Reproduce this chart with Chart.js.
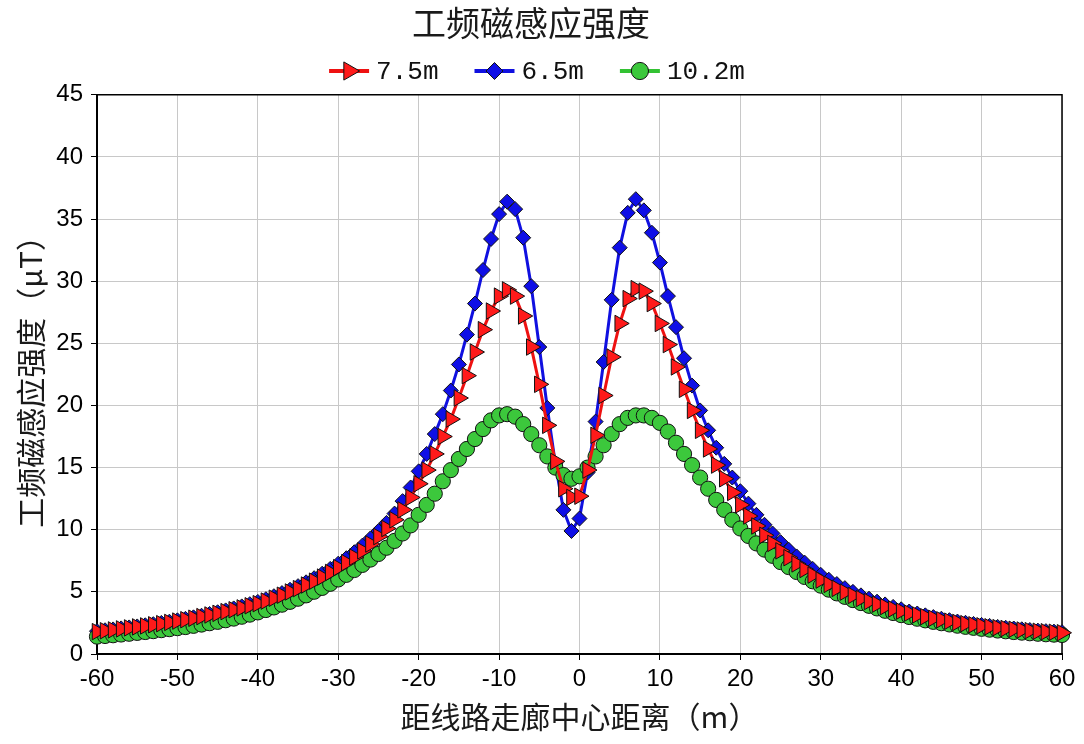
<!DOCTYPE html>
<html>
<head>
<meta charset="utf-8">
<script src="https://cdn.jsdelivr.net/npm/chart.js@4.4.0/dist/chart.umd.min.js"></script>
<style>
  html, body { margin: 0; padding: 0; background: #fff; }
</style>
</head>
<body>
<canvas id="chart" width="1084" height="744"></canvas>
<script>
// 工频磁感应强度 vs distance from the corridor centre

const chartTitle = '工频磁感应强度';
const xAxisTitle = '距线路走廊中心距离（m）';
const yAxisTitle = '工频磁感应强度（μT）';
const seriesNames = ['7.5m', '6.5m', '10.2m'];
const xRange = [-60, 60, 10];
const yRange = [0, 45, 5];

const distance = [
  -60, -59, -58, -57, -56, -55, -54, -53, -52, -51,
  -50, -49, -48, -47, -46, -45, -44, -43, -42, -41,
  -40, -39, -38, -37, -36, -35, -34, -33, -32, -31,
  -30, -29, -28, -27, -26, -25, -24, -23, -22, -21,
  -20, -19, -18, -17, -16, -15, -14, -13, -12, -11,
  -10, -9, -8, -7, -6, -5, -4, -3, -2, -1,
  0, 1, 2, 3, 4, 5, 6, 7, 8, 9,
  10, 11, 12, 13, 14, 15, 16, 17, 18, 19,
  20, 21, 22, 23, 24, 25, 26, 27, 28, 29,
  30, 31, 32, 33, 34, 35, 36, 37, 38, 39,
  40, 41, 42, 43, 44, 45, 46, 47, 48, 49,
  50, 51, 52, 53, 54, 55, 56, 57, 58, 59, 60
];

const field75 = [
  1.80, 1.87, 1.94, 2.02, 2.10, 2.18, 2.26, 2.35, 2.44, 2.54,
  2.65, 2.76, 2.88, 3.01, 3.14, 3.27, 3.41, 3.56, 3.71, 3.88,
  4.05, 4.26, 4.49, 4.73, 4.99, 5.26, 5.55, 5.86, 6.19, 6.56,
  6.95, 7.35, 7.80, 8.30, 8.85, 9.45, 10.10, 10.80, 11.60, 12.60,
  13.7, 14.8, 16.1, 17.5, 18.9, 20.6, 22.4, 24.3, 26.1, 27.6,
  28.8, 29.3, 28.8, 27.2, 24.7, 21.7, 18.4, 15.5, 13.3, 12.6,
  12.7, 14.8, 17.6, 20.8, 23.9, 26.6, 28.6, 29.4, 29.2, 28.2,
  26.6, 24.9, 23.1, 21.3, 19.6, 18.0, 16.5, 15.2, 14.1, 13.0,
  12.0, 11.1, 10.3, 9.55, 8.90, 8.30, 7.75, 7.25, 6.80, 6.35,
  5.95, 5.60, 5.28, 4.98, 4.71, 4.46, 4.22, 4.01, 3.81, 3.62,
  3.45, 3.29, 3.14, 3.00, 2.87, 2.75, 2.64, 2.54, 2.44, 2.35,
  2.27, 2.19, 2.12, 2.05, 1.99, 1.93, 1.88, 1.83, 1.79, 1.75, 1.71
];

const field65 = [
  1.84, 1.91, 1.98, 2.06, 2.14, 2.22, 2.31, 2.40, 2.50, 2.60,
  2.71, 2.83, 2.95, 3.08, 3.22, 3.36, 3.51, 3.67, 3.83, 4.01,
  4.19, 4.41, 4.65, 4.90, 5.17, 5.46, 5.77, 6.10, 6.46, 6.85,
  7.27, 7.71, 8.19, 8.72, 9.30, 9.90, 10.55, 11.30, 12.30, 13.40,
  14.7, 16.1, 17.7, 19.3, 21.2, 23.3, 25.7, 28.2, 30.9, 33.4,
  35.4, 36.4, 35.8, 33.5, 29.6, 24.7, 19.8, 15.3, 11.6, 9.9,
  10.9, 14.6, 18.7, 23.5, 28.5, 32.7, 35.5, 36.6, 35.7, 33.9,
  31.5, 28.8, 26.3, 23.8, 21.6, 19.6, 18.0, 16.6, 15.3, 14.2,
  13.1, 12.1, 11.2, 10.4, 9.70, 9.00, 8.40, 7.85, 7.35, 6.85,
  6.37, 5.98, 5.63, 5.30, 5.00, 4.72, 4.45, 4.21, 3.99, 3.79,
  3.60, 3.42, 3.26, 3.11, 2.97, 2.84, 2.72, 2.61, 2.51, 2.42,
  2.34, 2.26, 2.18, 2.11, 2.05, 1.99, 1.93, 1.88, 1.84, 1.80, 1.76
];

const field102 = [
  1.40, 1.45, 1.51, 1.57, 1.63, 1.70, 1.77, 1.84, 1.92, 2.00,
  2.08, 2.17, 2.27, 2.37, 2.48, 2.59, 2.72, 2.85, 3.00, 3.17,
  3.35, 3.54, 3.75, 3.97, 4.20, 4.45, 4.72, 5.01, 5.32, 5.65,
  6.00, 6.37, 6.76, 7.17, 7.60, 8.05, 8.55, 9.10, 9.70, 10.35,
  11.2, 12.0, 12.9, 13.9, 14.8, 15.7, 16.5, 17.3, 18.1, 18.8,
  19.2, 19.3, 19.1, 18.5, 17.7, 16.8, 15.9, 15.0, 14.4, 14.1,
  14.3, 15.0, 15.9, 16.8, 17.7, 18.5, 19.0, 19.2, 19.2, 19.0,
  18.6, 17.9, 17.0, 16.1, 15.2, 14.2, 13.3, 12.4, 11.6, 10.8,
  10.1, 9.5, 8.9, 8.4, 7.9, 7.4, 7.0, 6.6, 6.2, 5.85,
  5.50, 5.18, 4.88, 4.60, 4.34, 4.10, 3.88, 3.67, 3.48, 3.30,
  3.13, 2.98, 2.84, 2.71, 2.59, 2.48, 2.38, 2.28, 2.19, 2.11,
  2.03, 1.96, 1.89, 1.83, 1.77, 1.72, 1.67, 1.63, 1.59, 1.56, 1.53
];

const seriesValues = [field75, field65, field102];

const looks = [
  { line: '#ee1111', fill: '#ff1a1a', shape: 'triangle', rot: 90, r: 9.5, order: 0 },
  { line: '#1010e0', fill: '#0f0fe6', shape: 'rectRot', rot: 0, r: 7.5, order: 2 },
  { line: '#33c233', fill: '#3cc83c', shape: 'circle', rot: 0, r: 7.6, order: 1 }
];

const datasets = seriesNames.map((name, i) => ({
  label: name,
  data: distance.map((x, k) => ({ x: x, y: seriesValues[i][k] })),
  borderColor: looks[i].line,
  borderWidth: 3,
  pointStyle: looks[i].shape,
  pointRotation: looks[i].rot,
  pointRadius: looks[i].r,
  pointBackgroundColor: looks[i].fill,
  pointBorderColor: '#111',
  pointBorderWidth: 1,
  tension: 0,
  clip: false,
  order: looks[i].order
}));

// top & right edge of the plot box
const frameBox = {
  id: 'frameBox',
  beforeDatasetsDraw(chart) {
    const a = chart.chartArea, ctx = chart.ctx;
    ctx.save();
    ctx.strokeStyle = '#000';
    ctx.lineWidth = 1.5;
    ctx.beginPath();
    ctx.moveTo(a.left, a.top);
    ctx.lineTo(a.right, a.top);
    ctx.lineTo(a.right, a.bottom);
    ctx.stroke();
    ctx.restore();
  }
};

// legend as line + marker + label, like the original
const lineLegend = {
  id: 'lineLegend',
  afterDraw(chart) {
    const ctx = chart.ctx;
    const y = 71;
    const segW = 40, txtGap = 7, itemGap = 36;
    ctx.save();
    ctx.font = '26px "Liberation Mono", monospace';
    const dsList = chart.data.datasets;
    const widths = dsList.map(ds => segW + txtGap + ctx.measureText(ds.label).width);
    const total = widths.reduce((a, b) => a + b, 0) + itemGap * (widths.length - 1);
    let x = 537 - total / 2;
    dsList.forEach((ds, i) => {
      ctx.strokeStyle = ds.borderColor;
      ctx.lineWidth = 4;
      ctx.beginPath();
      ctx.moveTo(x, y);
      ctx.lineTo(x + segW, y);
      ctx.stroke();
      ctx.fillStyle = ds.pointBackgroundColor;
      ctx.strokeStyle = ds.pointBorderColor;
      ctx.lineWidth = 1;
      Chart.helpers.drawPoint(ctx, {
        pointStyle: ds.pointStyle,
        rotation: ds.pointRotation,
        radius: ds.pointRadius + 1,
        borderWidth: 1
      }, x + segW / 2, y);
      ctx.fillStyle = '#111';
      ctx.textAlign = 'left';
      ctx.textBaseline = 'middle';
      ctx.fillText(ds.label, x + segW + txtGap, y + 1);
      x += widths[i] + itemGap;
    });
    ctx.restore();
  }
};

const tickFont = { family: '"Liberation Sans", Arial, sans-serif', size: 24 };
const cjkFont = { family: '"Noto Sans CJK SC", sans-serif', size: 30 };

new Chart(document.getElementById('chart'), {
  type: 'line',
  data: { datasets: datasets },
  options: {
    responsive: false,
    animation: false,
    layout: { padding: { left: 0, right: 22, top: 0, bottom: 0 } },
    plugins: {
      legend: { display: false },
      tooltip: { enabled: false },
      title: {
        display: true,
        text: chartTitle,
        color: '#1a1a1a',
        font: { family: '"Noto Sans CJK SC", sans-serif', size: 34, weight: 'normal' },
        padding: { top: 3, bottom: 51 }
      }
    },
    scales: {
      x: {
        type: 'linear',
        min: xRange[0],
        max: xRange[1],
        afterFit: (s) => { s.height = 90; },
        ticks: { stepSize: xRange[2], color: '#000', font: tickFont, padding: 5, maxRotation: 0 },
        grid: { color: '#c8c8c8', lineWidth: 1, tickColor: '#000', tickLength: 6 },
        border: { color: '#000', width: 2 },
        title: { display: true, text: xAxisTitle, color: '#1a1a1a', font: cjkFont, padding: { top: 0, bottom: 9 } }
      },
      y: {
        min: yRange[0],
        max: yRange[1],
        afterFit: (s) => { s.width = 97; },
        ticks: { stepSize: yRange[2], color: '#000', font: tickFont, padding: 8 },
        grid: { color: '#c8c8c8', lineWidth: 1, tickColor: '#000', tickLength: 6 },
        border: { color: '#000', width: 2 },
        title: { display: true, text: yAxisTitle, color: '#1a1a1a', font: cjkFont, padding: { top: 13, bottom: 0 } }
      }
    }
  },
  plugins: [frameBox, lineLegend]
});
</script>
</body>
</html>
